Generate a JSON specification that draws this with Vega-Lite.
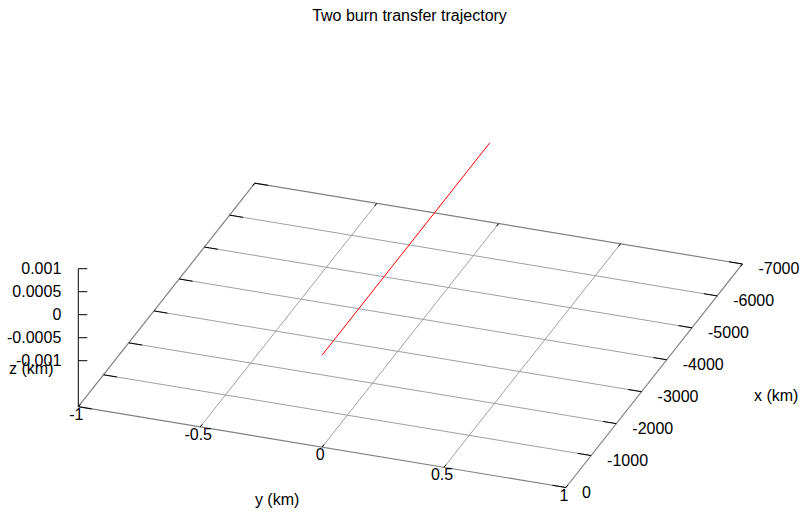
{
  "$schema": "https://vega.github.io/schema/vega-lite/v6.json",
  "width": 803,
  "height": 487,
  "autosize": {"type": "none"},
  "padding": {"top": 30, "left": 0, "right": 0, "bottom": 0},
  "background": "white",
  "view": {"stroke": null},
  "config": {"font": "Liberation Sans", "text": {"font": "Liberation Sans", "fontSize": 16, "color": "black"}},
  "title": {"text": "Two burn transfer trajectory", "anchor": "middle", "fontSize": 16, "font": "Liberation Sans", "fontWeight": "normal", "color": "black", "offset": 6, "dx": 8},
  "data": {"values": [
    {"kind": "border", "x": 0, "y": -1, "z": -0.002, "x2": 0, "y2": 1, "z2": -0.002},
    {"kind": "border", "x": 0, "y": 1, "z": -0.002, "x2": -7000, "y2": 1, "z2": -0.002},
    {"kind": "border", "x": -7000, "y": 1, "z": -0.002, "x2": -7000, "y2": -1, "z2": -0.002},
    {"kind": "border", "x": -7000, "y": -1, "z": -0.002, "x2": 0, "y2": -1, "z2": -0.002},
    {"kind": "grid", "x": -1000, "y": -1, "z": -0.002, "x2": -1000, "y2": 1, "z2": -0.002},
    {"kind": "grid", "x": -2000, "y": -1, "z": -0.002, "x2": -2000, "y2": 1, "z2": -0.002},
    {"kind": "grid", "x": -3000, "y": -1, "z": -0.002, "x2": -3000, "y2": 1, "z2": -0.002},
    {"kind": "grid", "x": -4000, "y": -1, "z": -0.002, "x2": -4000, "y2": 1, "z2": -0.002},
    {"kind": "grid", "x": -5000, "y": -1, "z": -0.002, "x2": -5000, "y2": 1, "z2": -0.002},
    {"kind": "grid", "x": -6000, "y": -1, "z": -0.002, "x2": -6000, "y2": 1, "z2": -0.002},
    {"kind": "grid", "x": 0, "y": -0.5, "z": -0.002, "x2": -7000, "y2": -0.5, "z2": -0.002},
    {"kind": "grid", "x": 0, "y": 0, "z": -0.002, "x2": -7000, "y2": 0, "z2": -0.002},
    {"kind": "grid", "x": 0, "y": 0.5, "z": -0.002, "x2": -7000, "y2": 0.5, "z2": -0.002},
    {"kind": "tick", "x": 0, "y": -1, "z": -0.002, "x2": 0, "y2": -0.945, "z2": -0.002},
    {"kind": "tick", "x": -1000, "y": -1, "z": -0.002, "x2": -1000, "y2": -0.945, "z2": -0.002},
    {"kind": "tick", "x": -2000, "y": -1, "z": -0.002, "x2": -2000, "y2": -0.945, "z2": -0.002},
    {"kind": "tick", "x": -3000, "y": -1, "z": -0.002, "x2": -3000, "y2": -0.945, "z2": -0.002},
    {"kind": "tick", "x": -4000, "y": -1, "z": -0.002, "x2": -4000, "y2": -0.945, "z2": -0.002},
    {"kind": "tick", "x": -5000, "y": -1, "z": -0.002, "x2": -5000, "y2": -0.945, "z2": -0.002},
    {"kind": "tick", "x": -6000, "y": -1, "z": -0.002, "x2": -6000, "y2": -0.945, "z2": -0.002},
    {"kind": "tick", "x": -7000, "y": -1, "z": -0.002, "x2": -7000, "y2": -0.945, "z2": -0.002},
    {"kind": "tick", "x": 0, "y": 1, "z": -0.002, "x2": 0, "y2": 0.945, "z2": -0.002},
    {"kind": "tick", "x": -1000, "y": 1, "z": -0.002, "x2": -1000, "y2": 0.945, "z2": -0.002},
    {"kind": "tick", "x": -2000, "y": 1, "z": -0.002, "x2": -2000, "y2": 0.945, "z2": -0.002},
    {"kind": "tick", "x": -3000, "y": 1, "z": -0.002, "x2": -3000, "y2": 0.945, "z2": -0.002},
    {"kind": "tick", "x": -4000, "y": 1, "z": -0.002, "x2": -4000, "y2": 0.945, "z2": -0.002},
    {"kind": "tick", "x": -5000, "y": 1, "z": -0.002, "x2": -5000, "y2": 0.945, "z2": -0.002},
    {"kind": "tick", "x": -6000, "y": 1, "z": -0.002, "x2": -6000, "y2": 0.945, "z2": -0.002},
    {"kind": "tick", "x": -7000, "y": 1, "z": -0.002, "x2": -7000, "y2": 0.945, "z2": -0.002},
    {"kind": "tick", "x": 0, "y": -1, "z": -0.002, "x2": -80, "y2": -1, "z2": -0.002},
    {"kind": "tick", "x": 0, "y": -0.5, "z": -0.002, "x2": -80, "y2": -0.5, "z2": -0.002},
    {"kind": "tick", "x": 0, "y": 0, "z": -0.002, "x2": -80, "y2": 0, "z2": -0.002},
    {"kind": "tick", "x": 0, "y": 0.5, "z": -0.002, "x2": -80, "y2": 0.5, "z2": -0.002},
    {"kind": "tick", "x": 0, "y": 1, "z": -0.002, "x2": -80, "y2": 1, "z2": -0.002},
    {"kind": "tick", "x": -7000, "y": -1, "z": -0.002, "x2": -6920, "y2": -1, "z2": -0.002},
    {"kind": "tick", "x": -7000, "y": -0.5, "z": -0.002, "x2": -6920, "y2": -0.5, "z2": -0.002},
    {"kind": "tick", "x": -7000, "y": 0, "z": -0.002, "x2": -6920, "y2": 0, "z2": -0.002},
    {"kind": "tick", "x": -7000, "y": 0.5, "z": -0.002, "x2": -6920, "y2": 0.5, "z2": -0.002},
    {"kind": "tick", "x": -7000, "y": 1, "z": -0.002, "x2": -6920, "y2": 1, "z2": -0.002},
    {"kind": "tick", "x": 0, "y": -1, "z": -0.002, "x2": 0, "y2": -1, "z2": 0.001},
    {"kind": "ztick", "x": 0, "y": -1, "z": 0.001, "label": "0.001"},
    {"kind": "ztick", "x": 0, "y": -1, "z": 0.0005, "label": "0.0005"},
    {"kind": "ztick", "x": 0, "y": -1, "z": 0, "label": "0"},
    {"kind": "ztick", "x": 0, "y": -1, "z": -0.0005, "label": "-0.0005"},
    {"kind": "ztick", "x": 0, "y": -1, "z": -0.001, "label": "-0.001"},
    {"kind": "xlab", "x": 0, "y": 1, "z": -0.002, "label": "0"},
    {"kind": "xlab", "x": -1000, "y": 1, "z": -0.002, "label": "-1000"},
    {"kind": "xlab", "x": -2000, "y": 1, "z": -0.002, "label": "-2000"},
    {"kind": "xlab", "x": -3000, "y": 1, "z": -0.002, "label": "-3000"},
    {"kind": "xlab", "x": -4000, "y": 1, "z": -0.002, "label": "-4000"},
    {"kind": "xlab", "x": -5000, "y": 1, "z": -0.002, "label": "-5000"},
    {"kind": "xlab", "x": -6000, "y": 1, "z": -0.002, "label": "-6000"},
    {"kind": "xlab", "x": -7000, "y": 1, "z": -0.002, "label": "-7000"},
    {"kind": "ylab", "x": 0, "y": -1, "z": -0.002, "label": "-1"},
    {"kind": "ylab", "x": 0, "y": -0.5, "z": -0.002, "label": "-0.5"},
    {"kind": "ylab", "x": 0, "y": 0, "z": -0.002, "label": "0"},
    {"kind": "ylab", "x": 0, "y": 0.5, "z": -0.002, "label": "0.5"},
    {"kind": "ylab", "x": 0, "y": 1, "z": -0.002, "label": "1"},
    {"kind": "xtitle", "x": -3500, "y": 1, "z": -0.002, "label": "x (km)"},
    {"kind": "ytitle", "x": 0, "y": 0, "z": -0.002, "label": "y (km)"},
    {"kind": "ztitle", "x": 0, "y": -1, "z": -0.001, "label": "z (km)"},
    {"kind": "traj", "x": 0, "y": 0, "z": 0},
    {"kind": "traj", "x": -6640, "y": 0, "z": 0}
  ]},
  "transform": [
    {"calculate": "78.3 + (datum.y + 1) * 243.8 - datum.x * 0.02522", "as": "px"},
    {"calculate": "406.7 + (datum.y + 1) * 40.4 + datum.x * 0.03193 - (datum.z + 0.002) * 46000", "as": "py"},
    {"calculate": "78.3 + (datum.y2 + 1) * 243.8 - datum.x2 * 0.02522", "as": "px2"},
    {"calculate": "406.7 + (datum.y2 + 1) * 40.4 + datum.x2 * 0.03193 - (datum.z2 + 0.002) * 46000", "as": "py2"}
  ],
  "encoding": {
    "x": {"field": "px", "type": "quantitative", "scale": {"domain": [0, 803], "nice": false, "zero": false}, "axis": null},
    "y": {"field": "py", "type": "quantitative", "scale": {"domain": [517, 30], "nice": false, "zero": false}, "axis": null}
  },
  "layer": [
    {"transform": [{"filter": "datum.kind === 'grid'"}], "mark": {"type": "rule", "color": "#a0a0a0", "strokeWidth": 1}, "encoding": {"x2": {"field": "px2"}, "y2": {"field": "py2"}}},
    {"transform": [{"filter": "datum.kind === 'border'"}], "mark": {"type": "rule", "color": "#808080", "strokeWidth": 1.2}, "encoding": {"x2": {"field": "px2"}, "y2": {"field": "py2"}}},
    {"transform": [{"filter": "datum.kind === 'tick'"}], "mark": {"type": "rule", "color": "#000000", "strokeWidth": 1}, "encoding": {"x2": {"field": "px2"}, "y2": {"field": "py2"}}},
    {"transform": [{"filter": "datum.kind === 'ztick'"}], "mark": {"type": "rule", "color": "#000000", "strokeWidth": 1, "x2Offset": 9}, "encoding": {"x2": {"field": "px"}}},
    {"transform": [{"filter": "datum.kind === 'traj'"}], "mark": {"type": "line", "color": "red", "strokeWidth": 1}, "encoding": {}},
    {"transform": [{"filter": "datum.kind === 'xlab'"}], "mark": {"type": "text", "align": "left", "baseline": "middle", "dx": 16, "dy": 5, "fontSize": 16}, "encoding": {"text": {"field": "label"}}},
    {"transform": [{"filter": "datum.kind === 'ylab'"}], "mark": {"type": "text", "align": "center", "baseline": "middle", "dx": -2, "dy": 8, "fontSize": 16}, "encoding": {"text": {"field": "label"}}},
    {"transform": [{"filter": "datum.kind === 'ztick'"}], "mark": {"type": "text", "align": "right", "baseline": "middle", "dx": -17, "fontSize": 16}, "encoding": {"text": {"field": "label"}}},
    {"transform": [{"filter": "datum.kind === 'xtitle'"}], "mark": {"type": "text", "align": "center", "baseline": "middle", "dx": 122, "dy": 20, "fontSize": 16}, "encoding": {"text": {"field": "label"}}},
    {"transform": [{"filter": "datum.kind === 'ytitle'"}], "mark": {"type": "text", "align": "center", "baseline": "middle", "dx": -45, "dy": 53, "fontSize": 16}, "encoding": {"text": {"field": "label"}}},
    {"transform": [{"filter": "datum.kind === 'ztitle'"}], "mark": {"type": "text", "align": "center", "baseline": "middle", "dx": -47, "dy": 8, "fontSize": 16}, "encoding": {"text": {"field": "label"}}}
  ]
}
